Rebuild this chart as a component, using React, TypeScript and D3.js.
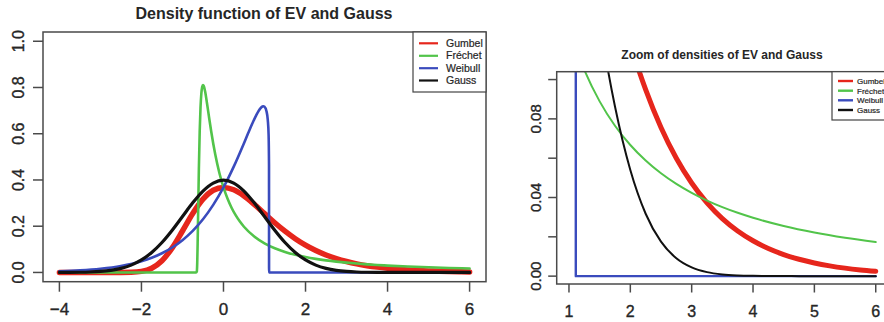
import React from 'react';
import * as d3 from 'd3';

// ---------- data ----------
const gridX = [-4, -3.75, -3.5, -3.25, -3, -2.75, -2.5, -2.25, -2, -1.75, -1.5, -1.25, -1, -0.75, -0.5, -0.25, 0,
  0.25, 0.5, 0.75, 1, 1.25, 1.5, 1.75, 2, 2.25, 2.5, 2.75, 3, 3.25, 3.5, 3.75, 4, 4.25, 4.5, 4.75, 5, 5.25, 5.5, 5.75, 6];

const gumbelY = [0, 0, 0, 0, 0, 0.0000025, 0.0000624, 0.000718, 0.004559, 0.018218, 0.050707, 0.106431, 0.179374,
  0.254855, 0.317041, 0.355574, 0.367879, 0.357435, 0.330704, 0.294535, 0.254646, 0.215132, 0.178506, 0.146055,
  0.118205, 0.094856, 0.075616, 0.059969, 0.047369, 0.037299, 0.029299, 0.022971, 0.017983, 0.014062, 0.010986,
  0.008577, 0.006693, 0.00522, 0.00407, 0.003173, 0.002473];

const gaussY = [0.000134, 0.000353, 0.000873, 0.002029, 0.004432, 0.009094, 0.017528, 0.03174, 0.053991, 0.086277,
  0.129518, 0.182649, 0.241971, 0.301137, 0.352065, 0.386668, 0.398942, 0.386668, 0.352065, 0.301137, 0.241971,
  0.182649, 0.129518, 0.086277, 0.053991, 0.03174, 0.017528, 0.009094, 0.004432, 0.002029, 0.000873, 0.000353,
  0.000134, 0.000048, 0.000016, 0.000005, 0.0000015, 0, 0, 0, 0];

const frechetX = [-4, -0.6667, -0.65, -0.64, -0.63, -0.62, -0.6, -0.58, -0.56, -0.54, -0.52, -0.5, -0.48, -0.45, -0.4,
  -0.35, -0.3, -0.2, -0.1, 0, 0.1, 0.2, 0.3, 0.4, 0.5, 0.75, 1, 1.25, 1.5, 1.75, 2, 2.25, 2.5, 2.75, 3, 3.25, 3.5,
  3.75, 4, 4.5, 5, 5.5, 6];
const frechetY = [0, 0, 0.0039, 0.0413, 0.1248, 0.2331, 0.4475, 0.6088, 0.7131, 0.7729, 0.8023, 0.811, 0.8066, 0.7848,
  0.7299, 0.669, 0.6106, 0.5097, 0.4302, 0.3679, 0.3185, 0.2789, 0.2466, 0.22, 0.1976, 0.1555, 0.12618, 0.10492,
  0.08891, 0.07651, 0.06671, 0.05879, 0.0523, 0.04689, 0.04233, 0.03845, 0.03512, 0.03222, 0.0297, 0.02552, 0.02222,
  0.01955, 0.01736];

const weibullX = [-4, -3.5, -3, -2.5, -2, -1.75, -1.5, -1.25, -1, -0.75, -0.5, -0.25, 0, 0.25, 0.5, 0.6, 0.7, 0.8, 0.9,
  0.95, 0.97, 1, 1.05, 1.08, 1.1, 1.11, 1.1112, 6];
const weibullY = [0.00509, 0.00907, 0.01603, 0.02805, 0.04856, 0.0636, 0.08301, 0.10787, 0.13957, 0.1797, 0.22997,
  0.29217, 0.36788, 0.45769, 0.55932, 0.60156, 0.64291, 0.68079, 0.70998, 0.71781, 0.71873, 0.71658, 0.69617,
  0.65959, 0.5959, 0.464, 0, 0];

const seriesNames = ['Gumbel', 'Fréchet', 'Weibull', 'Gauss'];
const seriesColors = ['#e6261c', '#52c44a', '#3a4bbd', '#111111'];

const leftXTicks = [-4, -2, 0, 2, 4, 6];
const leftXLabels = ['−4', '−2', '0', '2', '4', '6'];
const leftYTicks = [0, 0.2, 0.4, 0.6, 0.8, 1.0];
const leftYLabels = ['0.0', '0.2', '0.4', '0.6', '0.8', '1.0'];

const rightXTicks = [1, 2, 3, 4, 5, 6];
const rightXLabels = ['1', '2', '3', '4', '5', '6'];
const rightYTicks = [0, 0.02, 0.04, 0.06, 0.08, 0.1];
const rightYLabels = ['0.00', '', '0.04', '', '0.08', ''];

type Pt = [number, number];
const zip = (xs: number[], ys: number[]): Pt[] => xs.map((x, i) => [x, ys[i]] as Pt);

const allSeries: Pt[][] = [
  zip(gridX, gumbelY),
  zip(frechetX, frechetY),
  zip(weibullX, weibullY),
  zip(gridX, gaussY),
];

const FONT = 'Liberation Sans, Arial, Helvetica, sans-serif';
const TEXT = '#262626';

interface PanelProps {
  id: string;
  title: string;
  titleX: number; titleY: number; titleSize: number;
  xDomain: [number, number]; xRange: [number, number];
  yDomain: [number, number]; yRange: [number, number];
  xTicks: number[]; xLabels: string[];
  yTicks: number[]; yLabels: string[];
  xMin: number;
  widths: number[];
  tickLen: number;
  xLabelY: number; xLabelSize: number;
  yLabelX: number; yLabelSize: number;
  legend: { x0: number; x1: number; y0: number; y1: number; rowY: number[]; lx0: number; lx1: number; tx: number; size: number; lw: number };
}

function Panel(p: PanelProps) {
  const x = d3.scaleLinear().domain(p.xDomain).range(p.xRange);
  const y = d3.scaleLinear().domain(p.yDomain).range(p.yRange);
  const line = d3.line<Pt>().x(d => x(d[0])).y(d => y(d[1])).curve(d3.curveMonotoneX);
  const [bx0, bx1] = p.xRange;
  const [by0, by1] = [p.yRange[1], p.yRange[0]];
  const L = p.legend;
  return (
    <g>
      <defs>
        <clipPath id={p.id}>
          <rect x={bx0} y={by0} width={bx1 - bx0} height={by1 - by0} />
        </clipPath>
      </defs>
      <text x={p.titleX} y={p.titleY} textAnchor="middle" fontFamily={FONT} fontWeight="bold" fontSize={p.titleSize}
        fill={TEXT}>{p.title}</text>
      <g clipPath={`url(#${p.id})`}>
        {allSeries.map((s, i) => (
          <path key={i} d={line(s.filter(d => d[0] >= p.xMin)) || ''} fill="none" stroke={seriesColors[i]}
            strokeWidth={p.widths[i]} strokeLinecap="round" strokeLinejoin="round" />
        ))}
      </g>
      <rect x={bx0} y={by0} width={bx1 - bx0} height={by1 - by0} fill="none" stroke="#4a4a4a" strokeWidth={1.5} />
      {p.xTicks.map((t, i) => (
        <g key={'x' + i}>
          <line x1={x(t)} x2={x(t)} y1={by1} y2={by1 + p.tickLen} stroke="#4a4a4a" strokeWidth={1.5} />
          <text x={x(t)} y={p.xLabelY} textAnchor="middle" fontFamily={FONT} fontSize={p.xLabelSize} fill={TEXT}
            stroke={TEXT} strokeWidth={0.35}>{p.xLabels[i]}</text>
        </g>
      ))}
      {p.yTicks.map((t, i) => (
        <g key={'y' + i}>
          <line x1={bx0 - p.tickLen} x2={bx0} y1={y(t)} y2={y(t)} stroke="#4a4a4a" strokeWidth={1.5} />
          {p.yLabels[i] && (
            <text transform={`translate(${p.yLabelX},${y(t)}) rotate(-90)`} textAnchor="middle" fontFamily={FONT}
              fontSize={p.yLabelSize} fill={TEXT} stroke={TEXT} strokeWidth={0.35}>{p.yLabels[i]}</text>
          )}
        </g>
      ))}
      <rect x={L.x0} y={L.y0} width={L.x1 - L.x0} height={L.y1 - L.y0} fill="white" stroke="#444" strokeWidth={1.2} />
      {seriesNames.map((n, i) => (
        <g key={'l' + i}>
          <line x1={L.lx0} x2={L.lx1} y1={L.rowY[i]} y2={L.rowY[i]} stroke={seriesColors[i]} strokeWidth={L.lw} />
          <text x={L.tx} y={L.rowY[i]} dy="0.35em" fontFamily={FONT} fontSize={L.size} fill={TEXT}
            stroke={TEXT} strokeWidth={0.2}>{n}</text>
        </g>
      ))}
    </g>
  );
}

export default function App() {
  return (
    <svg width={884} height={322} style={{ position: 'absolute', left: 0, top: 0, background: 'white' }}>
      <rect x={0} y={0} width={884} height={322} fill="white" />
      <Panel id="clipL" title="Density function of EV and Gauss" titleX={264} titleY={19} titleSize={16}
        xDomain={[-4.4, 6.4]} xRange={[43, 486]} yDomain={[-0.04, 1.04]} yRange={[281.7, 32]}
        xTicks={leftXTicks} xLabels={leftXLabels} yTicks={leftYTicks} yLabels={leftYLabels} xMin={-4}
        widths={[5.5, 2.6, 2.6, 3.2]} tickLen={10} xLabelY={315} xLabelSize={17} yLabelX={24} yLabelSize={16}
        legend={{ x0: 413, x1: 486, y0: 32, y1: 92, rowY: [43.3, 55.8, 68.2, 80.5], lx0: 419, lx1: 438, tx: 446, size: 10.5, lw: 2.2 }} />
      <Panel id="clipR" title="Zoom of densities of EV and Gauss" titleX={722} titleY={59} titleSize={12}
        xDomain={[0.8, 6.2]} xRange={[556.7, 888]} yDomain={[-0.004, 0.104]} yRange={[284, 71.7]}
        xTicks={rightXTicks} xLabels={rightXLabels} yTicks={rightYTicks} yLabels={rightYLabels} xMin={1}
        widths={[5, 2, 2.4, 2]} tickLen={8.5} xLabelY={317} xLabelSize={16} yLabelX={541} yLabelSize={15}
        legend={{ x0: 832, x1: 888, y0: 71.7, y1: 120, rowY: [81, 90.7, 100.3, 110], lx0: 838, lx1: 853, tx: 857, size: 8, lw: 2.4 }} />
    </svg>
  );
}
